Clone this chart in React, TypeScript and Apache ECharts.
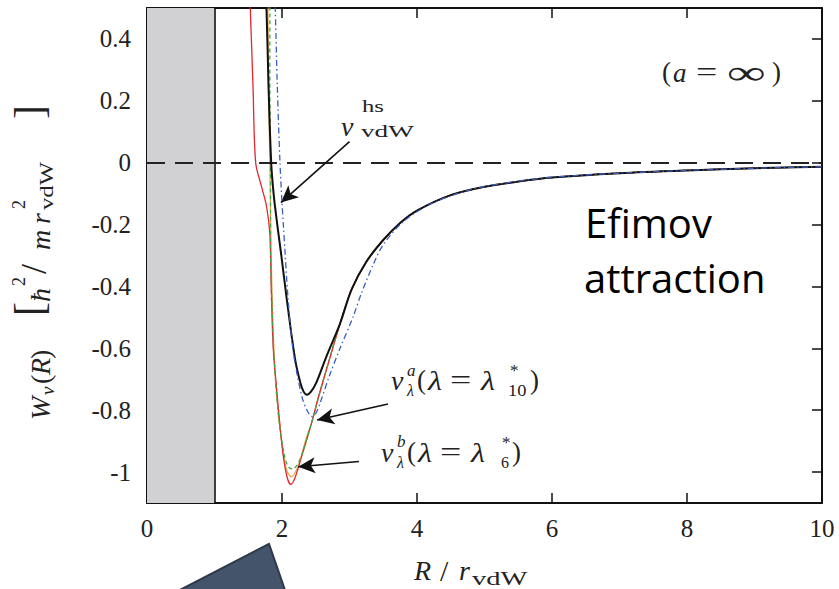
import React, { useEffect, useRef } from "react";
import * as echarts from "echarts";

// ---- data ----
const xTickValues = [0, 2, 4, 6, 8, 10];
const yTickValues = [-1, -0.8, -0.6, -0.4, -0.2, 0, 0.2, 0.4];

// shared long-range Efimov tail (all curves coincide here)
const tailR = [3.25, 3.5, 3.75, 4.0, 4.5, 5.0, 5.5, 6.0, 7.0, 8.0, 9.0, 10.0];
const tailW = [-0.32, -0.25, -0.195, -0.155, -0.105, -0.078, -0.061, -0.048, -0.034, -0.025, -0.018, -0.013];

// black solid W_nu(R)
const blackR = [1.75, 1.77, 1.8, 1.84, 1.88, 1.93, 1.99, 2.07, 2.19, 2.27, 2.32, 2.37, 2.43, 2.51, 2.66, 2.86, 3.03];
const blackW = [0.55, 0.5, 0.25, 0.0, -0.11, -0.2, -0.3, -0.44, -0.63, -0.71, -0.74, -0.75, -0.74, -0.71, -0.625, -0.52, -0.41];

// red solid
const redR = [1.52, 1.53, 1.57, 1.61, 1.7, 1.77, 1.82, 1.84, 1.87, 1.92, 1.97, 2.02, 2.08, 2.13, 2.19, 2.29, 2.44, 2.55, 2.71, 2.86, 3.03];
const redW = [0.55, 0.5, 0.25, 0.0, -0.08, -0.14, -0.23, -0.4, -0.6, -0.73, -0.85, -0.95, -1.02, -1.04, -1.02, -0.95, -0.84, -0.75, -0.63, -0.52, -0.41];

// green dashed
const greenR = [1.82, 1.82, 1.83, 1.83, 1.85, 1.88, 1.92, 1.97, 2.04, 2.1, 2.16, 2.23, 2.3, 2.44, 2.55, 2.71, 2.86, 3.03];
const greenW = [0.55, 0.25, 0.0, -0.27, -0.45, -0.62, -0.75, -0.86, -0.95, -0.985, -0.99, -0.975, -0.94, -0.84, -0.75, -0.63, -0.52, -0.41];

// orange solid
const orangeR = [1.79, 1.8, 1.82, 1.84, 1.87, 1.91, 1.96, 2.02, 2.08, 2.14, 2.2, 2.27, 2.36, 2.44, 2.55, 2.71, 2.86, 3.03];
const orangeW = [0.55, 0.25, 0.0, -0.3, -0.55, -0.72, -0.84, -0.94, -1.0, -1.015, -1.0, -0.96, -0.89, -0.84, -0.75, -0.63, -0.52, -0.41];

// blue dash-dot v_vdW^hs
const blueR = [1.89, 1.9, 1.93, 1.97, 2.0, 2.02, 2.09, 2.16, 2.22, 2.3, 2.37, 2.44, 2.5, 2.56, 2.7, 2.86, 3.05, 3.18, 3.35, 3.5, 3.8, 4.19, 4.6, 5.0, 5.5, 6.0, 7.0, 8.0, 9.0, 10.0];
const blueW = [0.55, 0.5, 0.25, 0.0, -0.13, -0.2, -0.44, -0.6, -0.68, -0.76, -0.8, -0.82, -0.81, -0.78, -0.69, -0.6, -0.5, -0.42, -0.33, -0.265, -0.19, -0.135, -0.1, -0.077, -0.06, -0.047, -0.034, -0.025, -0.018, -0.013];

// arrows: [fromR, fromW, toR, toW]
const arrows = [
  [3.0, 0.068, 1.985, -0.129],
  [3.57, -0.78, 2.52, -0.832],
  [3.14, -0.966, 2.24, -0.983],
];

const zip = (r: number[], w: number[]) => r.map((x, i) => [x, w[i]]);
const withTail = (r: number[], w: number[]) => zip(r, w).concat(zip(tailR, tailW));

const MATH = "Liberation Serif";
const INK = "#222";

function T(text: string, x: number, y: number, size: number, italic = false, extra: any = {}) {
  return {
    type: "text",
    x,
    y,
    silent: true,
    ...extra,
    style: {
      text,
      fontSize: size,
      fontFamily: MATH,
      fontStyle: italic ? "italic" : "normal",
      fill: INK,
      align: "left",
      textAlign: "left",
      verticalAlign: "middle",
      textVerticalAlign: "middle",
    },
  };
}

export default function App() {
  const ref = useRef<HTMLDivElement>(null);
  useEffect(() => {
    if (!ref.current) return;
    const chart = echarts.init(ref.current, undefined, { renderer: "svg" });

    const axisLineStyle = { color: "#111", width: 2 };
    const tickStyle = { color: "#111", width: 1.5 };
    const labelStyle = { fontFamily: MATH, fontSize: 25, color: INK };

    const curve = (name: string, data: number[][], color: string, width: number, type: any, z: number) => ({
      name,
      type: "line",
      data,
      showSymbol: false,
      symbol: "none",
      smooth: 0.3,
      clip: true,
      z,
      lineStyle: { color, width, type },
      emphasis: { disabled: true },
    });

    const annotations: any[] = [
      // (a = ∞)
      T("(", 662, 72, 27),
      T("a", 673, 73, 27, true),
      T("=", 696, 72, 27, false, { scaleX: 1.4 }),
      T("∞", 727, 73, 34, false, { scaleX: 1.6 }),
      T(")", 772, 72, 27),
      // v_vdW^hs
      T("v", 341, 126, 28, true),
      T("hs", 362, 106, 17, false, { scaleX: 1.45 }),
      T("vdW", 361, 131, 17, false, { scaleX: 1.6 }),
      // v^a_lambda(lambda = lambda*_10)
      T("v", 391, 380, 28, true),
      T("a", 407, 370, 17, true),
      T("λ", 407, 390, 16, true),
      T("(", 417, 380, 27),
      T("λ", 428, 380, 27, true, { scaleX: 1.2 }),
      T("=", 450, 380, 27, false, { scaleX: 1.4 }),
      T("λ", 481, 380, 27, true, { scaleX: 1.2 }),
      T("*", 510, 370, 17),
      T("10", 508, 391, 16, false, { scaleX: 1.15 }),
      T(")", 530, 380, 27),
      // v^b_lambda(lambda = lambda*_6)
      T("v", 381, 452, 28, true),
      T("b", 397, 441, 17, true),
      T("λ", 397, 462, 16, true),
      T("(", 407, 452, 27),
      T("λ", 418, 452, 27, true, { scaleX: 1.2 }),
      T("=", 440, 452, 27, false, { scaleX: 1.4 }),
      T("λ", 471, 452, 27, true, { scaleX: 1.2 }),
      T("*", 502, 442, 17),
      T("6", 501, 462, 16),
      T(")", 512, 452, 27),
      // x-axis name R / r_vdW
      T("R", 414, 570, 28, true),
      T("/", 440, 570, 30),
      T("r", 459, 570, 28, true),
      T("vdW", 472, 578, 19, false, { scaleX: 1.5 }),
      // y-axis name (rotated)
      {
        type: "group",
        x: 40,
        y: 420,
        rotation: Math.PI / 2,
        silent: true,
        children: [
          T("W", 0, 0, 28, true),
          T("ν", 25, 7, 19, true),
          T("(", 36, 0, 28),
          T("R", 45, 0, 28, true),
          T(")", 61, 0, 28),
          T("[", 104, -11, 42),
          T("ħ", 118, 0, 28, true),
          T("2", 134, -21, 18),
          T("/", 146, -6, 36),
          T("m", 170, 0, 28, true),
          T("r", 196, 0, 28, true),
          T("2", 211, -21, 18),
          T("vdW", 210, 7, 19, false, { scaleX: 1.3 }),
          T("]", 301, -11, 42),
        ],
      },
      // Efimov attraction
      {
        type: "text", x: 585, y: 222, silent: true,
        style: { text: "Efimov", fontSize: 40, fontFamily: "Open Sans", fill: "#000", align: "left", textAlign: "left", verticalAlign: "middle", textVerticalAlign: "middle" },
      },
      {
        type: "text", x: 584, y: 277, silent: true,
        style: { text: "attraction", fontSize: 40, fontFamily: "Open Sans", fill: "#000", align: "left", textAlign: "left", verticalAlign: "middle", textVerticalAlign: "middle" },
      },
      // slide arrow tip (decoration)
      {
        type: "polygon", silent: true, z: 100,
        shape: { points: [[269, 544], [174, 593], [286, 593]] },
        style: { fill: "#44546a", stroke: "#2e3a4b", lineWidth: 2 },
      },
    ];

    const option: any = {
      animation: false,
      backgroundColor: "#fff",
      grid: { left: 147, right: 17, top: 8, bottom: 86 },
      xAxis: [
        {
          type: "value", min: 0, max: 10, interval: 2, position: "bottom",
          axisLine: { show: true, onZero: false, lineStyle: axisLineStyle },
          axisTick: { show: true, inside: true, length: 10, lineStyle: tickStyle, customValues: xTickValues },
          axisLabel: { margin: 13, ...labelStyle, customValues: xTickValues },
          splitLine: { show: false },
        },
        {
          type: "value", min: 0, max: 10, interval: 2, position: "top",
          axisLine: { show: true, onZero: false, lineStyle: axisLineStyle },
          axisTick: { show: true, inside: true, length: 10, lineStyle: tickStyle },
          axisLabel: { show: false },
          splitLine: { show: false },
        },
      ],
      yAxis: [
        {
          type: "value", min: -1.1, max: 0.5, position: "left",
          axisLine: { show: true, onZero: false, lineStyle: axisLineStyle },
          axisTick: { show: true, inside: true, length: 10, lineStyle: tickStyle, customValues: yTickValues },
          axisLabel: { margin: 16, ...labelStyle, customValues: yTickValues },
          splitLine: { show: false },
        },
        {
          type: "value", min: -1.1, max: 0.5, position: "right",
          axisLine: { show: true, onZero: false, lineStyle: axisLineStyle },
          axisTick: { show: true, inside: true, length: 10, lineStyle: tickStyle, customValues: yTickValues },
          axisLabel: { show: false },
          splitLine: { show: false },
        },
      ],
      series: [
        {
          name: "frame",
          type: "line",
          data: [],
          z: 1,
          silent: true,
          markArea: {
            silent: true,
            itemStyle: { color: "#d1d1d3", opacity: 1 },
            data: [[{ xAxis: 0 }, { xAxis: 1 }]],
          },
          markLine: {
            silent: true,
            symbol: "none",
            label: { show: false },
            data: [
              { xAxis: 1, lineStyle: { color: "#111", width: 1.6, type: "solid" } },
              { yAxis: 0, lineStyle: { color: "#222", width: 2, type: [18, 10] } },
            ],
          },
        },
        curve("orange", withTail(orangeR, orangeW), "#e9a640", 1.2, "solid", 2),
        curve("red", withTail(redR, redW), "#e3262e", 1.3, "solid", 3),
        curve("green", withTail(greenR, greenW), "#3fa84a", 1.3, [4, 3], 4),
        curve("black", withTail(blackR, blackW), "#111", 2, "solid", 5),
        {
          ...curve("blue", zip(blueR, blueW), "#3a5fc0", 1.3, [6, 3, 1.5, 3], 6),
          markLine: {
            silent: true,
            symbol: ["none", "arrow"],
            symbolSize: [12, 17],
            label: { show: false },
            lineStyle: { color: "#111", width: 1.6, type: "solid" },
            data: arrows.map((a) => [{ coord: [a[0], a[1]] }, { coord: [a[2], a[3]] }]),
          },
        },
      ],
      graphic: annotations,
    };

    chart.setOption(option);
    return () => chart.dispose();
  }, []);

  return (
    <div
      ref={ref}
      style={{ position: "fixed", left: 0, top: 0, width: 839, height: 589, background: "#fff" }}
    />
  );
}
